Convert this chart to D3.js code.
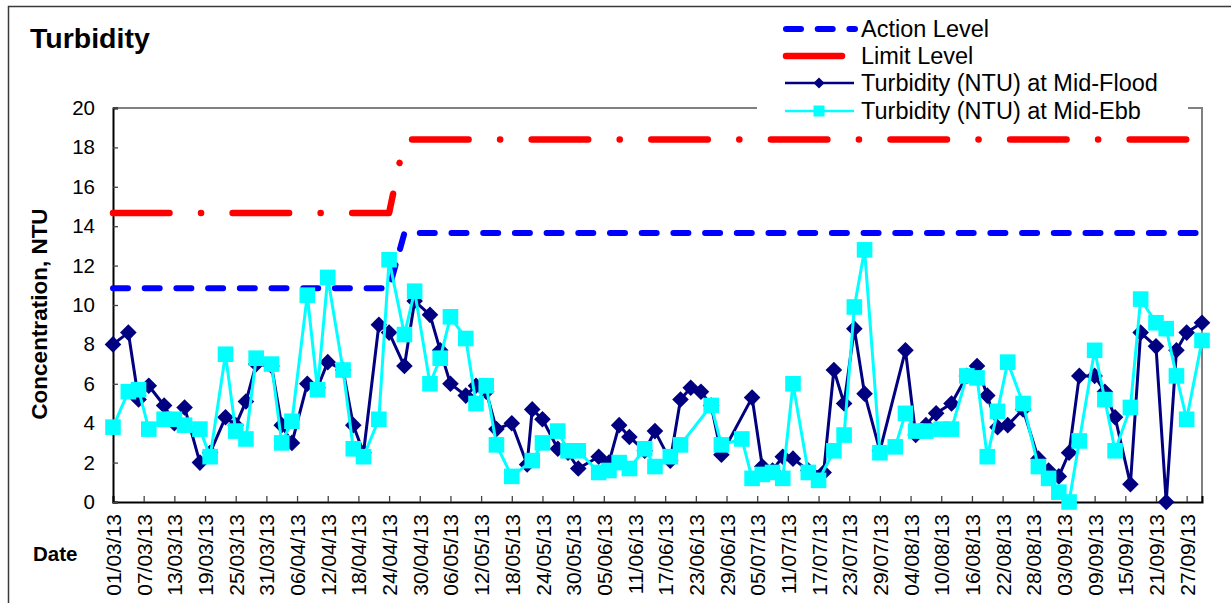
<!DOCTYPE html>
<html><head><meta charset="utf-8">
<script src="https://cdn.jsdelivr.net/npm/d3@7"></script>
<style>
html,body{margin:0;padding:0;background:#fff;}
svg{display:block;font-family:"Liberation Sans",Arial,sans-serif;}
</style></head>
<body><svg id="chart" width="1231" height="603"></svg>
<script>
// ---------- DATA ----------
const chartTitle = "Turbidity";
const yAxisTitle = "Concentration, NTU";
const xAxisTitle = "Date";
const seriesNames = ["Action Level", "Limit Level", "Turbidity (NTU) at Mid-Flood", "Turbidity (NTU) at Mid-Ebb"];

const levelDates = ["2013-03-01", "2013-04-24", "2013-04-27", "2013-09-30"];
const actionLevel = [10.85, 10.85, 13.65, 13.65];
const limitLevel  = [14.67, 14.67, 18.4, 18.4];

const floodDates = ["03-01","03-04","03-06","03-08","03-11","03-13","03-15","03-18","03-20","03-23","03-25","03-27","03-29",
  "04-01","04-03","04-05","04-08","04-10","04-12","04-15","04-17","04-19","04-22","04-24","04-27","04-29",
  "05-02","05-04","05-06","05-09","05-11","05-13","05-15","05-18","05-21","05-22","05-24","05-27","05-29","05-31",
  "06-04","06-06","06-08","06-10","06-13","06-15","06-18","06-20","06-22","06-24","06-26","06-28",
  "07-04","07-06","07-08","07-10","07-12","07-15","07-18","07-20","07-22","07-24","07-26","07-29",
  "08-03","08-05","08-07","08-09","08-12","08-15","08-17","08-19","08-21","08-23","08-26","08-29","08-31",
  "09-02","09-04","09-06","09-09","09-11","09-13","09-16","09-18","09-21","09-23","09-25","09-27","09-30"];
const floodValues = [8.0,8.6,5.2,5.9,4.9,4.0,4.8,2.0,2.5,4.3,3.9,5.1,7.0,
  6.9,3.9,3.0,6.0,5.8,7.1,6.7,3.9,2.5,9.0,8.6,6.9,10.2,
  9.5,7.7,6.0,5.4,5.9,5.6,3.7,4.0,1.9,4.7,4.2,2.7,2.5,1.7,
  2.3,2.0,3.9,3.3,2.6,3.6,2.1,5.2,5.8,5.6,4.9,2.4,
  5.3,1.8,1.6,2.3,2.2,1.6,1.5,6.7,5.0,8.8,5.5,2.6,
  7.7,3.4,3.9,4.5,5.0,6.4,6.9,5.4,3.8,3.9,4.7,2.2,1.6,
  1.3,2.5,6.4,6.4,5.6,4.3,0.9,8.6,7.9,0.0,7.7,8.6,9.1];

const ebbDates = ["03-01","03-04","03-06","03-08","03-11","03-13","03-15","03-18","03-20","03-23","03-25","03-27","03-29",
  "04-01","04-03","04-05","04-08","04-10","04-12","04-15","04-17","04-19","04-22","04-24","04-27","04-29",
  "05-02","05-04","05-06","05-09","05-11","05-13","05-15","05-18","05-22","05-24","05-27","05-29","05-31",
  "06-04","06-06","06-08","06-10","06-13","06-15","06-18","06-20","06-26","06-28",
  "07-02","07-04","07-06","07-08","07-10","07-12","07-15","07-17","07-20","07-22","07-24","07-26","07-29",
  "08-01","08-03","08-05","08-07","08-10","08-12","08-15","08-17","08-19","08-21","08-23","08-26","08-29","08-31",
  "09-02","09-04","09-06","09-09","09-11","09-13","09-16","09-18","09-21","09-23","09-25","09-27","09-30"];
const ebbValues = [3.8,5.6,5.7,3.7,4.2,4.2,3.9,3.7,2.3,7.5,3.6,3.2,7.3,
  7.0,3.0,4.1,10.5,5.7,11.4,6.7,2.7,2.3,4.2,12.3,8.5,10.7,
  6.0,7.3,9.4,8.3,5.0,5.9,2.9,1.3,2.1,3.0,3.6,2.6,2.6,
  1.5,1.6,2.0,1.7,2.7,1.8,2.3,2.9,4.9,2.9,
  3.2,1.2,1.4,1.5,1.2,6.0,1.5,1.1,2.6,3.4,9.9,12.8,2.5,
  2.8,4.5,3.6,3.6,3.7,3.7,6.4,6.3,2.3,4.6,7.1,5.0,1.8,1.2,
  0.5,0.0,3.1,7.7,5.2,2.6,4.8,10.3,9.1,8.8,6.4,4.2,8.2];

const yTickValues = [0,2,4,6,8,10,12,14,16,18,20];
const xStart = "2013-03-01", xEnd = "2013-09-30", xTickEvery = 6;

// ---------- DRAW ----------
const parse = d3.utcParse("%Y-%m-%d");
const fmt = d3.utcFormat("%d/%m/%y");
const svg = d3.select("#chart");
const L = 113, R = 1202, T = 108, B = 502;

const x = d3.scaleUtc().domain([parse(xStart), parse(xEnd)]).range([L, R]);
const y = d3.scaleLinear().domain([0, 20]).range([B, T]);

// outer frame (extends past the viewport like the source)
svg.append("rect").attr("x", 8.5).attr("y", 6.5).attr("width", 1260).attr("height", 640)
  .attr("fill", "#fff").attr("stroke", "#3a3a3a").attr("stroke-width", 1.5);

// plot frame top/right
svg.append("path").attr("d", `M${L},${T}H${R}V${B}`).attr("fill", "none")
  .attr("stroke", "#808080").attr("stroke-width", 2);

// axes
const xTicks = d3.utcDay.range(parse(xStart), d3.utcDay.offset(parse(xEnd), -2), xTickEvery);
const xAxis = d3.axisBottom(x).tickValues(xTicks).tickSize(-6).tickFormat(fmt);
const gx = svg.append("g").attr("transform", `translate(0,${B})`).call(xAxis);
gx.select(".domain").attr("stroke", "#000").attr("stroke-width", 2);
gx.selectAll(".tick line").attr("stroke", "#444").attr("stroke-width", 1.3);
gx.selectAll(".tick text")
  .attr("font-size", 21).attr("fill", "#000")
  .attr("text-anchor", "end")
  .attr("transform", "translate(0,12) rotate(-90)")
  .attr("x", 0).attr("y", 0).attr("dy", "0.36em");

const yAxis = d3.axisLeft(y).tickValues(yTickValues).tickSize(-5).tickPadding(18);
const gy = svg.append("g").attr("transform", `translate(${L},0)`).call(yAxis);
gy.select(".domain").attr("stroke", "#000").attr("stroke-width", 2);
gy.selectAll(".tick line").attr("stroke", "#444").attr("stroke-width", 1.3);
gy.selectAll(".tick text").attr("font-size", 20.5).attr("fill", "#000");

// titles
svg.append("text").attr("x", 30).attr("y", 48).attr("font-size", 28.5).attr("font-weight", "bold").text(chartTitle);
svg.append("text").attr("transform", "translate(47,314) rotate(-90)").attr("text-anchor", "middle")
  .attr("font-size", 22.5).attr("font-weight", "bold").text(yAxisTitle);
svg.append("text").attr("x", 33).attr("y", 561).attr("font-size", 20.5).attr("font-weight", "bold").text(xAxisTitle);

// level lines
const levelData = levelDates.map((d, i) => ({ d: parse(d), a: actionLevel[i], l: limitLevel[i] }));
const actionDash = "15,16.7";
const limitDash = "56.5,31.5,0.1,31.5";
svg.append("path").datum(levelData)
  .attr("d", d3.line().x(d => x(d.d)).y(d => y(d.a)))
  .attr("fill", "none").attr("stroke", "#0000ff").attr("stroke-width", 6)
  .attr("stroke-linecap", "round").attr("stroke-linejoin", "round").attr("stroke-dasharray", actionDash);
svg.append("path").datum(levelData)
  .attr("d", d3.line().x(d => x(d.d)).y(d => y(d.l)))
  .attr("fill", "none").attr("stroke", "#ff0000").attr("stroke-width", 6.5)
  .attr("stroke-linecap", "round").attr("stroke-linejoin", "round").attr("stroke-dasharray", limitDash);

// series
const flood = floodDates.map((d, i) => ({ d: parse("2013-" + d), v: floodValues[i] }));
const ebb = ebbDates.map((d, i) => ({ d: parse("2013-" + d), v: ebbValues[i] }));
const diamond = s => `M0,${-s}L${s},0L0,${s}L${-s},0Z`;
const square = s => `M${-s},${-s}H${s}V${s}H${-s}Z`;
const lineGen = d3.line().x(d => x(d.d)).y(d => y(d.v));

svg.append("path").datum(flood).attr("d", lineGen).attr("fill", "none")
  .attr("stroke", "#000080").attr("stroke-width", 3).attr("stroke-linejoin", "round");
svg.append("g").selectAll("path").data(flood).join("path")
  .attr("transform", d => `translate(${x(d.d)},${y(d.v)})`).attr("d", diamond(8.3)).attr("fill", "#000080");

svg.append("path").datum(ebb).attr("d", lineGen).attr("fill", "none")
  .attr("stroke", "#00ffff").attr("stroke-width", 3).attr("stroke-linejoin", "round");
svg.append("g").selectAll("path").data(ebb).join("path")
  .attr("transform", d => `translate(${x(d.d)},${y(d.v)})`).attr("d", square(7.8)).attr("fill", "#00ffff");

// legend
const lg = svg.append("g");
lg.append("rect").attr("x", 757).attr("y", 14).attr("width", 431).attr("height", 110).attr("fill", "#fff");
const rows = [29, 56, 83, 111];
lg.append("line").attr("x1", 786).attr("x2", 855).attr("y1", rows[0]).attr("y2", rows[0])
  .attr("stroke", "#0000ff").attr("stroke-width", 6).attr("stroke-linecap", "round").attr("stroke-dasharray", actionDash);
lg.append("line").attr("x1", 786).attr("x2", 842).attr("y1", rows[1]).attr("y2", rows[1])
  .attr("stroke", "#ff0000").attr("stroke-width", 6.5).attr("stroke-linecap", "round").attr("stroke-dasharray", limitDash);
lg.append("line").attr("x1", 785).attr("x2", 854).attr("y1", rows[2]).attr("y2", rows[2])
  .attr("stroke", "#000080").attr("stroke-width", 2.5);
lg.append("path").attr("transform", `translate(819,${rows[2]})`).attr("d", diamond(5.5)).attr("fill", "#000080");
lg.append("line").attr("x1", 785).attr("x2", 854).attr("y1", rows[3]).attr("y2", rows[3])
  .attr("stroke", "#00ffff").attr("stroke-width", 2.5);
lg.append("path").attr("transform", `translate(819,${rows[3]})`).attr("d", square(5.5)).attr("fill", "#00ffff");
lg.selectAll("text.lbl").data(seriesNames).join("text").attr("class", "lbl")
  .attr("x", 861).attr("y", (d, i) => rows[i]).attr("dy", "0.36em")
  .attr("font-size", 23.5).attr("fill", "#000").text(d => d);
</script></body></html>
